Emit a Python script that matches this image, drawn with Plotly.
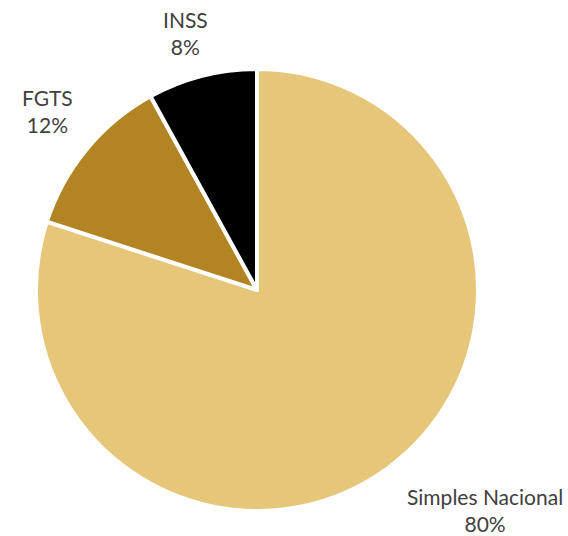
import plotly.graph_objects as go

labels = ["Simples Nacional", "FGTS", "INSS"]
values = [80, 12, 8]
colors = ["#E6C678", "#B38423", "#000000"]

W, H = 568, 536
cx, cy, r = 257, 290, 221

fig = go.Figure(go.Pie(
    labels=labels, values=values, sort=False, direction="clockwise", rotation=0,
    marker=dict(colors=colors, line=dict(color="white", width=4)),
    textinfo="none", hoverinfo="label+percent", showlegend=False,
    domain=dict(x=[(cx - r) / W, (cx + r) / W], y=[(H - cy - r) / H, (H - cy + r) / H]),
))

label_pos = [(485, 510), (47, 111), (185, 33)]
for lab, val, (x, y) in zip(labels, values, label_pos):
    fig.add_annotation(
        x=x / W, y=1 - y / H, xref="paper", yref="paper",
        text=f"{lab}<br>{val}%", showarrow=False,
        font=dict(family="Lato, 'Open Sans', sans-serif", size=21, color="#404040"),
        xanchor="center", yanchor="middle", align="center",
    )

fig.update_layout(
    width=W, height=H, margin=dict(l=0, r=0, t=0, b=0),
    paper_bgcolor="white", plot_bgcolor="white",
)
fig.write_html("out.html", config={"displayModeBar": False},
               post_script="document.body.style.margin='0';document.body.style.overflow='hidden';")
